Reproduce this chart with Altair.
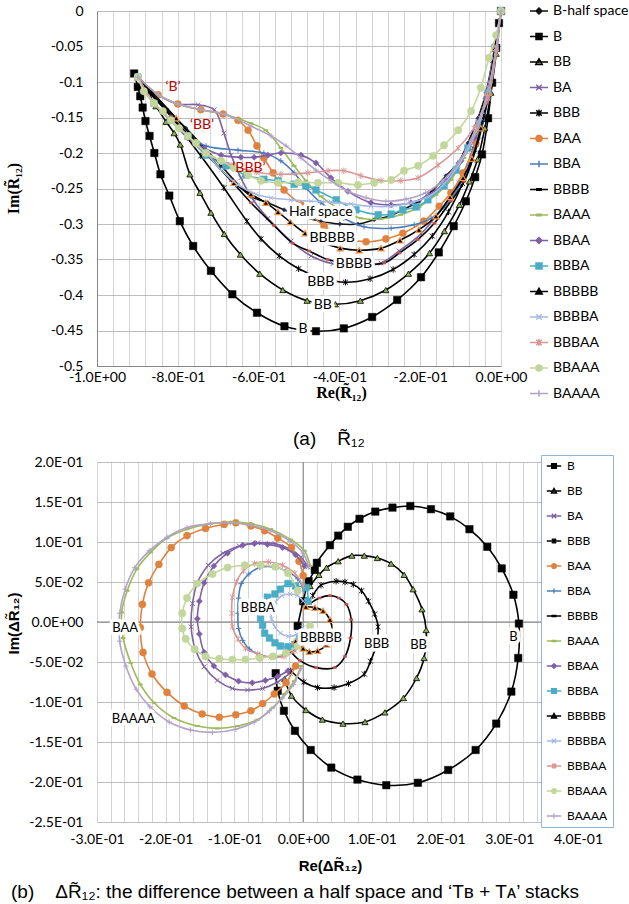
import json
import altair as alt
import pandas as pd

# ------------------------------------------------------------------
# Series names
TOP_SERIES = ["B-half space", "B", "BB", "BA", "BBB", "BAA", "BBA", "BBBB", "BAAA",
              "BBAA", "BBBA", "BBBBB", "BBBBA", "BBBAA", "BBAAA", "BAAAA"]
BOT_SERIES = TOP_SERIES[1:]

# ------------------------------------------------------------------
# (a) R12 : real / imaginary parts
HS_re = [-0.899,-0.842,-0.780,-0.693,-0.619,-0.577,-0.537,-0.495,-0.446,-0.399,-0.354,-0.314,-0.277,-0.240,-0.203,-0.168,-0.136,-0.106,-0.082,-0.057,-0.037,-0.020,0.0]
HS_im = [-0.093,-0.130,-0.165,-0.218,-0.261,-0.270,-0.280,-0.289,-0.296,-0.300,-0.300,-0.294,-0.289,-0.279,-0.268,-0.252,-0.232,-0.214,-0.186,-0.151,-0.115,-0.066,0.0]
B_re = [-0.908,-0.899,-0.893,-0.887,-0.880,-0.870,-0.858,-0.843,-0.821,-0.795,-0.762,-0.718,-0.665,-0.604,-0.536,-0.458,-0.389,-0.319,-0.257,-0.198,-0.154,-0.117,-0.087,-0.064,-0.047,-0.032,-0.022,-0.012,-0.005,0.0]
B_im = [-0.088,-0.107,-0.120,-0.136,-0.155,-0.176,-0.200,-0.230,-0.260,-0.296,-0.331,-0.366,-0.399,-0.425,-0.444,-0.451,-0.447,-0.431,-0.407,-0.375,-0.340,-0.303,-0.268,-0.234,-0.202,-0.151,-0.101,-0.052,-0.017,0.0]
BB_re = [-0.899,-0.879,-0.854,-0.829,-0.809,-0.794,-0.770,-0.745,-0.718,-0.685,-0.645,-0.597,-0.540,-0.480,-0.410,-0.348,-0.285,-0.229,-0.177,-0.140,-0.103,-0.078,-0.058,-0.040,-0.025,-0.012,0.0]
BB_im = [-0.093,-0.111,-0.134,-0.156,-0.172,-0.188,-0.230,-0.256,-0.284,-0.314,-0.343,-0.370,-0.393,-0.408,-0.413,-0.408,-0.393,-0.370,-0.341,-0.310,-0.273,-0.240,-0.209,-0.165,-0.115,-0.060,0.0]
BA_re = [-0.899,-0.849,-0.800,-0.750,-0.710,-0.686,-0.668,-0.644,-0.611,-0.577,-0.520,-0.470,-0.416,-0.356,-0.297,-0.252,-0.198,-0.149,-0.104,-0.069,-0.037,-0.015,0.0]
BA_im = [-0.093,-0.118,-0.131,-0.132,-0.139,-0.172,-0.203,-0.235,-0.268,-0.292,-0.324,-0.345,-0.356,-0.359,-0.355,-0.338,-0.314,-0.280,-0.242,-0.193,-0.123,-0.052,0.0]
BBB_re = [-0.899,-0.866,-0.829,-0.795,-0.743,-0.686,-0.629,-0.594,-0.549,-0.501,-0.445,-0.385,-0.324,-0.267,-0.215,-0.170,-0.130,-0.095,-0.065,-0.040,-0.020,0.0]
BBB_im = [-0.093,-0.118,-0.140,-0.165,-0.204,-0.249,-0.296,-0.321,-0.345,-0.363,-0.376,-0.382,-0.377,-0.364,-0.343,-0.317,-0.283,-0.243,-0.195,-0.135,-0.070,0.0]
BAA_re = [-0.899,-0.849,-0.800,-0.743,-0.688,-0.651,-0.626,-0.604,-0.587,-0.564,-0.537,-0.495,-0.438,-0.384,-0.334,-0.285,-0.243,-0.191,-0.153,-0.124,-0.094,-0.062,-0.035,-0.015,0.0]
BAA_im = [-0.093,-0.118,-0.131,-0.139,-0.145,-0.154,-0.168,-0.190,-0.207,-0.228,-0.252,-0.273,-0.303,-0.320,-0.325,-0.321,-0.313,-0.296,-0.275,-0.256,-0.228,-0.186,-0.123,-0.052,0.0]
BBA_re = [-0.899,-0.859,-0.817,-0.775,-0.730,-0.651,-0.587,-0.545,-0.512,-0.483,-0.446,-0.389,-0.339,-0.272,-0.215,-0.173,-0.141,-0.109,-0.079,-0.054,-0.032,-0.015,0.0]
BBA_im = [-0.093,-0.130,-0.154,-0.176,-0.190,-0.196,-0.200,-0.211,-0.228,-0.249,-0.270,-0.292,-0.304,-0.306,-0.301,-0.292,-0.277,-0.252,-0.218,-0.179,-0.123,-0.052,0.0]
BBBB_re = [-0.899,-0.817,-0.743,-0.668,-0.619,-0.562,-0.516,-0.475,-0.429,-0.364,-0.289,-0.252,-0.206,-0.165,-0.124,-0.091,-0.060,-0.035,-0.015,0.0]
BBBB_im = [-0.093,-0.148,-0.193,-0.239,-0.270,-0.302,-0.327,-0.338,-0.350,-0.356,-0.355,-0.341,-0.322,-0.299,-0.268,-0.240,-0.190,-0.130,-0.065,0.0]
BAAA_re = [-0.899,-0.849,-0.800,-0.743,-0.681,-0.619,-0.582,-0.545,-0.512,-0.483,-0.446,-0.396,-0.347,-0.297,-0.248,-0.203,-0.161,-0.124,-0.092,-0.062,-0.035,-0.015,0.0]
BAAA_im = [-0.093,-0.118,-0.131,-0.139,-0.146,-0.158,-0.168,-0.193,-0.218,-0.239,-0.261,-0.280,-0.292,-0.293,-0.287,-0.276,-0.259,-0.238,-0.207,-0.172,-0.115,-0.052,0.0]
BBAA_re = [-0.899,-0.859,-0.817,-0.775,-0.735,-0.693,-0.644,-0.611,-0.577,-0.545,-0.495,-0.458,-0.421,-0.379,-0.322,-0.272,-0.223,-0.178,-0.136,-0.099,-0.067,-0.037,-0.015,0.0]
BBAA_im = [-0.093,-0.130,-0.154,-0.179,-0.193,-0.203,-0.206,-0.206,-0.203,-0.200,-0.203,-0.214,-0.235,-0.254,-0.270,-0.273,-0.270,-0.259,-0.239,-0.211,-0.179,-0.123,-0.052,0.0]
BBBA_re = [-0.899,-0.859,-0.817,-0.775,-0.730,-0.681,-0.631,-0.587,-0.552,-0.512,-0.483,-0.458,-0.408,-0.359,-0.304,-0.272,-0.243,-0.210,-0.181,-0.141,-0.111,-0.082,-0.054,-0.032,-0.015,0.0]
BBBA_im = [-0.093,-0.130,-0.154,-0.176,-0.203,-0.218,-0.231,-0.237,-0.239,-0.244,-0.246,-0.252,-0.266,-0.280,-0.287,-0.286,-0.280,-0.276,-0.266,-0.246,-0.224,-0.193,-0.158,-0.115,-0.052,0.0]
BBBBB_re = [-0.899,-0.804,-0.730,-0.661,-0.619,-0.582,-0.552,-0.522,-0.485,-0.446,-0.398,-0.351,-0.297,-0.250,-0.203,-0.161,-0.126,-0.094,-0.072,-0.050,-0.032,-0.015,0.0]
BBBBB_im = [-0.093,-0.151,-0.200,-0.242,-0.258,-0.270,-0.283,-0.297,-0.313,-0.325,-0.334,-0.337,-0.334,-0.323,-0.308,-0.289,-0.262,-0.235,-0.208,-0.165,-0.115,-0.052,0.0]
BBBBA_re = [-0.899,-0.859,-0.817,-0.775,-0.730,-0.693,-0.651,-0.606,-0.569,-0.520,-0.470,-0.421,-0.371,-0.322,-0.272,-0.223,-0.178,-0.141,-0.106,-0.074,-0.050,-0.030,-0.012,0.0]
BBBBA_im = [-0.093,-0.130,-0.154,-0.176,-0.200,-0.224,-0.245,-0.258,-0.263,-0.266,-0.268,-0.269,-0.272,-0.275,-0.275,-0.270,-0.261,-0.244,-0.218,-0.186,-0.151,-0.108,-0.052,0.0]
BBBAA_re = [-0.899,-0.859,-0.817,-0.775,-0.730,-0.668,-0.606,-0.545,-0.478,-0.428,-0.389,-0.347,-0.297,-0.248,-0.205,-0.156,-0.106,-0.067,-0.032,-0.012,0.0]
BBBAA_im = [-0.093,-0.130,-0.154,-0.176,-0.200,-0.217,-0.227,-0.230,-0.228,-0.225,-0.225,-0.232,-0.239,-0.239,-0.235,-0.217,-0.193,-0.165,-0.123,-0.059,0.0]
BBAAA_re = [-0.899,-0.884,-0.859,-0.837,-0.817,-0.797,-0.775,-0.755,-0.730,-0.693,-0.661,-0.626,-0.594,-0.552,-0.502,-0.453,-0.403,-0.354,-0.314,-0.272,-0.240,-0.205,-0.168,-0.141,-0.106,-0.074,-0.050,-0.030,-0.012,0.0]
BBAAA_im = [-0.093,-0.113,-0.130,-0.141,-0.154,-0.165,-0.176,-0.186,-0.200,-0.211,-0.221,-0.231,-0.239,-0.242,-0.241,-0.242,-0.242,-0.245,-0.242,-0.238,-0.225,-0.218,-0.204,-0.189,-0.168,-0.141,-0.108,-0.066,-0.034,0.0]
BAAAA_re = [-0.899,-0.849,-0.800,-0.743,-0.681,-0.619,-0.569,-0.532,-0.495,-0.458,-0.421,-0.379,-0.334,-0.285,-0.235,-0.186,-0.144,-0.106,-0.074,-0.047,-0.027,-0.012,0.0]
BAAAA_im = [-0.093,-0.118,-0.131,-0.139,-0.146,-0.162,-0.176,-0.190,-0.207,-0.224,-0.239,-0.254,-0.263,-0.268,-0.265,-0.256,-0.239,-0.214,-0.182,-0.144,-0.101,-0.052,0.0]

# ------------------------------------------------------------------
# (b) delta R12 : real / imaginary parts
dB_re = [-0.008,0.000,0.008,0.017,0.020,0.039,0.051,0.065,0.082,0.105,0.130,0.156,0.186,0.214,0.242,0.268,0.289,0.306,0.314,0.313,0.303,0.281,0.251,0.211,0.167,0.121,0.079,0.041,0.011,-0.012,-0.028,-0.037,-0.040]
dB_im = [-0.005,0.026,0.051,0.065,0.074,0.096,0.108,0.119,0.129,0.138,0.143,0.145,0.141,0.132,0.116,0.094,0.067,0.034,-0.002,-0.045,-0.087,-0.127,-0.160,-0.185,-0.201,-0.204,-0.197,-0.182,-0.160,-0.136,-0.111,-0.086,-0.064]
dBB_re = [0.010,0.023,0.034,0.051,0.071,0.089,0.108,0.128,0.147,0.160,0.173,0.179,0.176,0.165,0.146,0.119,0.090,0.058,0.028,0.004,-0.017,-0.027]
dBB_im = [0.045,0.059,0.068,0.076,0.083,0.083,0.080,0.073,0.059,0.041,0.016,-0.010,-0.045,-0.070,-0.095,-0.113,-0.125,-0.127,-0.122,-0.110,-0.092,-0.071]
dBA_re = [-0.019,-0.037,-0.059,-0.081,-0.103,-0.125,-0.144,-0.157,-0.163,-0.161,-0.154,-0.138,-0.117,-0.093,-0.066,-0.041,-0.019,-0.003,0.007]
dBA_im = [-0.064,-0.075,-0.083,-0.085,-0.083,-0.073,-0.056,-0.034,-0.006,0.023,0.049,0.071,0.086,0.095,0.099,0.098,0.091,0.081,0.069]
dBBB_re = [0.014,0.026,0.048,0.061,0.073,0.085,0.095,0.104,0.109,0.106,0.098,0.089,0.066,0.045,0.021,0.001,-0.018]
dBBB_im = [0.033,0.046,0.051,0.050,0.047,0.039,0.026,0.010,-0.006,-0.030,-0.049,-0.065,-0.077,-0.082,-0.082,-0.075,-0.061]
dBAA_re = [-0.011,-0.025,-0.042,-0.059,-0.076,-0.098,-0.122,-0.147,-0.173,-0.198,-0.220,-0.233,-0.237,-0.234,-0.225,-0.210,-0.192,-0.169,-0.142,-0.115,-0.098,-0.076,-0.056,-0.037,-0.017,-0.006,0.000]
dBAA_im = [-0.055,-0.076,-0.090,-0.102,-0.111,-0.116,-0.119,-0.115,-0.105,-0.088,-0.065,-0.038,-0.007,0.022,0.049,0.072,0.093,0.108,0.117,0.122,0.124,0.120,0.114,0.105,0.093,0.076,0.058]
dBBA_re = [0.002,-0.008,-0.025,-0.044,-0.063,-0.079,-0.090,-0.094,-0.095,-0.094,-0.088,-0.078,-0.063,-0.044,-0.025,-0.011]
dBBA_im = [0.039,0.054,0.064,0.069,0.068,0.060,0.048,0.030,0.011,-0.008,-0.023,-0.034,-0.041,-0.044,-0.041,-0.034]
dBBBB_re = [0.010,0.024,0.039,0.052,0.063,0.070,0.069,0.061,0.046,0.019,-0.005,-0.019]
dBBBB_im = [0.023,0.030,0.033,0.030,0.022,0.003,-0.020,-0.043,-0.057,-0.057,-0.048,-0.036]
dBAAA_re = [-0.003,-0.013,-0.027,-0.044,-0.066,-0.095,-0.125,-0.154,-0.188,-0.217,-0.237,-0.251,-0.262,-0.264,-0.256,-0.242,-0.222,-0.198,-0.169,-0.135,-0.105,-0.076,-0.047,-0.018,0.002,0.010]
dBAAA_im = [-0.055,-0.074,-0.090,-0.107,-0.122,-0.130,-0.133,-0.130,-0.120,-0.101,-0.078,-0.051,-0.020,0.012,0.039,0.066,0.087,0.105,0.116,0.123,0.125,0.123,0.116,0.103,0.089,0.070]
dBBAA_re = [-0.022,-0.037,-0.055,-0.074,-0.094,-0.113,-0.130,-0.144,-0.151,-0.154,-0.151,-0.144,-0.130,-0.110,-0.088,-0.071,-0.052,-0.030,-0.011,0.002]
dBBAA_im = [-0.061,-0.068,-0.073,-0.076,-0.074,-0.066,-0.055,-0.038,-0.015,0.004,0.026,0.049,0.070,0.086,0.096,0.098,0.097,0.093,0.084,0.070]
dBBBA_re = [0.007,0.004,-0.011,-0.022,-0.033,-0.041,-0.052,-0.059,-0.060,-0.062,-0.059,-0.056,-0.049,-0.041,-0.033,-0.022,-0.012,-0.005]
dBBBA_im = [0.026,0.043,0.045,0.048,0.041,0.035,0.031,0.023,0.014,0.005,-0.004,-0.014,-0.020,-0.026,-0.030,-0.031,-0.028,-0.019]
dBBBBB_re = [0.004,0.017,0.029,0.039,0.042,0.034,0.021,0.009,0.000,-0.011]
dBBBBB_im = [0.019,0.018,0.014,0.003,-0.011,-0.028,-0.036,-0.037,-0.033,-0.024]
dBBBBA_re = [0.000,-0.008,-0.019,-0.031,-0.040,-0.046,-0.046,-0.041,-0.033,-0.021,-0.009,0.000]
dBBBBA_im = [0.026,0.033,0.035,0.033,0.025,0.015,0.004,-0.006,-0.014,-0.018,-0.015,-0.007]
dBBBAA_re = [0.000,-0.012,-0.030,-0.050,-0.071,-0.087,-0.097,-0.103,-0.104,-0.103,-0.095,-0.084,-0.066,-0.047,-0.028,-0.012,0.000]
dBBBAA_im = [0.045,0.061,0.071,0.075,0.073,0.064,0.050,0.031,0.011,-0.006,-0.021,-0.033,-0.040,-0.044,-0.043,-0.036,-0.026]
dBBAAA_re = [-0.008,-0.022,-0.040,-0.062,-0.085,-0.110,-0.132,-0.154,-0.169,-0.176,-0.176,-0.171,-0.158,-0.142,-0.122,-0.103,-0.084,-0.063,-0.044,-0.025,-0.008,0.004,0.010]
dBBAAA_im = [0.039,0.061,0.069,0.071,0.071,0.068,0.060,0.048,0.030,0.011,-0.008,-0.021,-0.034,-0.043,-0.046,-0.047,-0.047,-0.045,-0.043,-0.039,-0.030,-0.019,-0.005]
dBAAAA_re = [-0.003,-0.014,-0.030,-0.049,-0.071,-0.098,-0.132,-0.164,-0.195,-0.223,-0.243,-0.258,-0.267,-0.267,-0.259,-0.245,-0.224,-0.198,-0.169,-0.135,-0.106,-0.076,-0.047,-0.019,0.000,0.008]
dBAAAA_im = [-0.058,-0.078,-0.095,-0.111,-0.125,-0.134,-0.138,-0.135,-0.125,-0.106,-0.084,-0.055,-0.024,0.011,0.041,0.068,0.089,0.106,0.118,0.123,0.124,0.121,0.114,0.101,0.086,0.069]

TOP_DATA = {
    "B-half space": (HS_re, HS_im), "B": (B_re, B_im), "BB": (BB_re, BB_im), "BA": (BA_re, BA_im),
    "BBB": (BBB_re, BBB_im), "BAA": (BAA_re, BAA_im), "BBA": (BBA_re, BBA_im), "BBBB": (BBBB_re, BBBB_im),
    "BAAA": (BAAA_re, BAAA_im), "BBAA": (BBAA_re, BBAA_im), "BBBA": (BBBA_re, BBBA_im),
    "BBBBB": (BBBBB_re, BBBBB_im), "BBBBA": (BBBBA_re, BBBBA_im), "BBBAA": (BBBAA_re, BBBAA_im),
    "BBAAA": (BBAAA_re, BBAAA_im), "BAAAA": (BAAAA_re, BAAAA_im),
}
BOT_DATA = {
    "B": (dB_re, dB_im), "BB": (dBB_re, dBB_im), "BA": (dBA_re, dBA_im), "BBB": (dBBB_re, dBBB_im),
    "BAA": (dBAA_re, dBAA_im), "BBA": (dBBA_re, dBBA_im), "BBBB": (dBBBB_re, dBBBB_im),
    "BAAA": (dBAAA_re, dBAAA_im), "BBAA": (dBBAA_re, dBBAA_im), "BBBA": (dBBBA_re, dBBBA_im),
    "BBBBB": (dBBBBB_re, dBBBBB_im), "BBBBA": (dBBBBA_re, dBBBBA_im), "BBBAA": (dBBBAA_re, dBBBAA_im),
    "BBAAA": (dBBAAA_re, dBBAAA_im), "BAAAA": (dBAAAA_re, dBAAAA_im),
}

# Annotation labels
TOP_LAB_TEXT = ["Half space", "BBBBB", "BBBB", "BBB", "BB", "B"]
TOP_LAB_RE = [-0.446, -0.418, -0.364, -0.446, -0.441, -0.490]
TOP_LAB_IM = [-0.283, -0.320, -0.356, -0.382, -0.414, -0.448]
TOP_RED_TEXT = ["\u2018B\u2019", "\u2018BB\u2019", "\u2018BBB\u2019"]
TOP_RED_RE = [-0.812, -0.740, -0.624]
TOP_RED_IM = [-0.107, -0.161, -0.221]
BOT_LAB_TEXT = ["BAA", "BAAAA", "BBBA", "BBBBB", "BBB", "BB", "B"]
BOT_LAB_RE = [-0.259, -0.247, -0.066, 0.026, 0.107, 0.168, 0.306]
BOT_LAB_IM = [-0.008, -0.121, 0.018, -0.020, -0.027, -0.029, -0.019]

# Axis tick labels
TOP_X_LABELS = ["-1.0E+00", "-8.0E-01", "-6.0E-01", "-4.0E-01", "-2.0E-01", "0.0E+00"]
TOP_Y_LABELS = ["-0.5", "-0.45", "-0.4", "-0.35", "-0.3", "-0.25", "-0.2", "-0.15", "-0.1", "-0.05", "0"]
BOT_X_LABELS = ["-3.0E-01", "-2.0E-01", "-1.0E-01", "0.0E+00", "1.0E-01", "2.0E-01", "3.0E-01", "4.0E-01"]
BOT_Y_LABELS = ["-2.5E-01", "-2.0E-01", "-1.5E-01", "-1.0E-01", "-5.0E-02", "0.0E+00",
                "5.0E-02", "1.0E-01", "1.5E-01", "2.0E-01"]

# ------------------------------------------------------------------
# Styles
X_PATH = "M-1,-1L1,1M-1,1L1,-1"
STAR_PATH = "M-1,-1L1,1M-1,1L1,-1M0,-1.3L0,1.3"
PLUS_PATH = "M-1.1,0L1.1,0M0,-1.1L0,1.1"
DASH_PATH = "M-1,0L1,0"

# name: (line colour, shape, fill, stroke, size, stroke width)
STYLE = {
    "B-half space": ("#111111", "diamond", "#1F2D50", "#1F2D50", 18, 0.5),
    "B": ("#000000", "square", "#000000", "#000000", 55, 0.5),
    "BB": ("#000000", "triangle-up", "#8CB050", "#000000", 38, 0.8),
    "BA": ("#8064A2", X_PATH, "none", "#8064A2", 22, 1.0),
    "BBB": ("#000000", STAR_PATH, "none", "#000000", 24, 1.0),
    "BAA": ("#E0823D", "circle", "#E0823D", "#E0823D", 50, 0.5),
    "BBA": ("#4A7EBB", PLUS_PATH, "none", "#4A7EBB", 24, 1.0),
    "BBBB": ("#000000", DASH_PATH, "none", "#C0504D", 14, 2.5),
    "BAAA": ("#9BBB59", DASH_PATH, "none", "#9BBB59", 22, 2.0),
    "BBAA": ("#7F60A8", "diamond", "#7F60A8", "#7F60A8", 38, 0.5),
    "BBBA": ("#4BACC6", "square", "#4BACC6", "#4BACC6", 45, 0.5),
    "BBBBB": ("#000000", "triangle-up", "#000000", "#F79646", 38, 1.2),
    "BBBBA": ("#A7B9E3", X_PATH, "none", "#A7B9E3", 22, 1.0),
    "BBBAA": ("#DA9694", STAR_PATH, "none", "#DA9694", 24, 1.0),
    "BBAAA": ("#C3D69B", "circle", "#C3D69B", "#C3D69B", 55, 0.5),
    "BAAAA": ("#B3A2C7", PLUS_PATH, "none", "#B3A2C7", 24, 1.0),
}

LINE = "M-1.8,0H1.8"
LEG_MARK = {
    "diamond": "M0,-0.6L0.6,0L0,0.6L-0.6,0Z",
    "square": "M-0.6,-0.6H0.6V0.6H-0.6Z",
    "triangle-up": "M0,-0.65L0.65,0.5H-0.65Z",
    "circle": "M-0.6,0A0.6,0.6 0 1,0 0.6,0A0.6,0.6 0 1,0 -0.6,0Z",
    X_PATH: "M-0.55,-0.55L0.55,0.55M-0.55,0.55L0.55,-0.55",
    STAR_PATH: "M-0.55,-0.55L0.55,0.55M-0.55,0.55L0.55,-0.55M0,-0.7V0.7",
    PLUS_PATH: "M0,-0.65V0.65",
    DASH_PATH: "M-0.45,-0.15H0.45V0.15H-0.45Z",
}


def series_df(name, data):
    re_, im_ = data[name]
    return pd.DataFrame({"i": list(range(len(re_))), "re": re_, "im": im_})


def tick_expr(start, step, labels):
    k = f"(datum.value-({start}))/{step}"
    return f"abs({k}-round({k}))<0.01 ? {json.dumps(labels)}[round({k})] : ''"


def make_panel(series, data, field, xscale, yscale, xaxis, yaxis, legend, labels, red_labels, zero_rules):
    X = lambda f="re": alt.X(f"{f}:Q", scale=xscale, axis=xaxis)
    Y = lambda f="im": alt.Y(f"{f}:Q", scale=yscale, axis=yaxis)
    layers = []
    if zero_rules:
        z = pd.DataFrame({"re": [0.0], "im": [0.0]})
        layers.append(alt.Chart(z).mark_rule(color="#7F7F7F", strokeWidth=1).encode(x=X()))
        layers.append(alt.Chart(z).mark_rule(color="#7F7F7F", strokeWidth=1).encode(y=Y()))
    for s in series:
        lc, shp, fc, sc, sz, sw = STYLE[s]
        df = series_df(s, data)
        layers.append(
            alt.Chart(df).mark_line(color=lc, strokeWidth=1.6, interpolate="catmull-rom")
            .encode(x=X(), y=Y(), order=alt.Order("i:Q"))
        )
        layers.append(
            alt.Chart(df).mark_point(shape=shp, filled=True, fill=fc, stroke=sc, strokeWidth=sw,
                                     size=sz, opacity=1)
            .encode(x=X(), y=Y())
        )
    # annotation labels with white halo
    txt, lre, lim, fsz = labels
    ldf = pd.DataFrame({"t": txt, "re": lre, "im": lim})
    layers.append(alt.Chart(ldf).mark_text(font="Lato", fontSize=fsz, stroke="white", strokeWidth=7,
                                           strokeJoin="round", color="white")
                  .encode(x=X(), y=Y(), text="t:N"))
    layers.append(alt.Chart(ldf).mark_text(font="Lato", fontSize=fsz, color="black")
                  .encode(x=X(), y=Y(), text="t:N"))
    if red_labels is not None:
        rt, rre, rim = red_labels
        rdf = pd.DataFrame({"t": rt, "re": rre, "im": rim})
        layers.append(alt.Chart(rdf).mark_text(font="Lato", fontSize=14, color="#C00000")
                      .encode(x=X(), y=Y(), text="t:N"))
    # legend carrier (no marks drawn, legend from explicit scale domain)
    ndf = pd.DataFrame({field: series})
    dom = list(series)
    layers.append(
        alt.Chart(ndf).mark_point(filled=True)
        .transform_filter(alt.datum[field] == "__none__")
        .encode(
            shape=alt.Shape(f"{field}:N", scale=alt.Scale(domain=dom, range=[LINE + LEG_MARK[STYLE[s][1]] for s in dom]), legend=legend),
            fill=alt.Fill(f"{field}:N", scale=alt.Scale(domain=dom, range=[STYLE[s][2] if STYLE[s][2] != "none" else STYLE[s][3] for s in dom]), legend=legend),
            stroke=alt.Stroke(f"{field}:N", scale=alt.Scale(domain=dom, range=[STYLE[s][0] for s in dom]), legend=legend),
        )
    )
    return alt.layer(*layers)


# ---------------- top panel ----------------
top_xgrid = [round(-1 + 0.04 * k, 2) for k in range(26)]
top_ygrid = [round(-0.5 + 0.05 * k, 2) for k in range(11)]
top_xaxis = alt.Axis(values=top_xgrid, labelExpr=tick_expr(-1, 0.2, TOP_X_LABELS), labelOverlap=False,
                     labelFlush=False, grid=True, gridColor="#D4D4D4", ticks=False, labelPadding=4,
                     domainColor="#868686",
                     title="Re(R\u0303\u2081\u2082)", titleFont="Liberation Serif", titleFontSize=16,
                     titleFontWeight="bold", titleX=244, titleY=26, titleBaseline="middle")
top_yaxis = alt.Axis(values=top_ygrid, labelExpr=tick_expr(-0.5, 0.05, TOP_Y_LABELS), labelOverlap=False,
                     labelFlush=False, grid=True, gridColor="#BDBDBD", ticks=False, labelPadding=14,
                     domainColor="#868686",
                     title="Im(R\u0303\u2081\u2082)", titleFont="Liberation Serif", titleFontSize=16,
                     titleFontWeight="bold", titleX=-84, titleY=177, titleBaseline="middle")
top_legend = alt.Legend(title=None, orient="none", legendX=435, legendY=-7, padding=0,
                        symbolSize=100, symbolStrokeWidth=1.5, labelFont="Lato", labelFontSize=14,
                        labelOffset=7, rowPadding=11.5, labelLimit=200, symbolOpacity=1)
top = make_panel(
    TOP_SERIES, TOP_DATA, "series_a",
    alt.Scale(domain=[-1, 0], nice=False, zero=False), alt.Scale(domain=[-0.5, 0], nice=False, zero=False),
    top_xaxis, top_yaxis, top_legend,
    (TOP_LAB_TEXT, TOP_LAB_RE, TOP_LAB_IM, 14), (TOP_RED_TEXT, TOP_RED_RE, TOP_RED_IM), False,
).properties(
    width=404, height=355,
    title=alt.TitleParams("(a)\u00a0\u00a0\u00a0\u00a0R\u0303\u2081\u2082", orient="bottom", anchor="start",
                          frame="group", dx=196, offset=29, font="Liberation Sans", fontSize=19,
                          fontWeight="normal", color="black"),
)

# ---------------- bottom panel ----------------
bot_xgrid = [round(-0.3 + 0.02 * k, 2) for k in range(36)]
bot_ygrid = [round(-0.25 + 0.05 * k, 2) for k in range(10)]
bot_xaxis = alt.Axis(values=bot_xgrid, labelExpr=tick_expr(-0.3, 0.1, BOT_X_LABELS), labelOverlap=False,
                     labelFlush=False, grid=True, gridColor="#D4D4D4", ticks=False, labelPadding=10, domain=False,
                     title="Re(\u0394R\u0303\u2081\u2082)", titleFont="Liberation Sans", titleFontSize=15,
                     titleFontWeight="bold", titleX=233, titleY=43, titleBaseline="middle")
bot_yaxis = alt.Axis(values=bot_ygrid, labelExpr=tick_expr(-0.25, 0.05, BOT_Y_LABELS), labelOverlap=False,
                     labelFlush=False, grid=True, gridColor="#BDBDBD", ticks=False, labelPadding=14, domain=False,
                     title="Im(\u0394R\u0303\u2081\u2082)", titleFont="Liberation Sans", titleFontSize=15,
                     titleFontWeight="bold", titleX=-84, titleY=161, titleBaseline="middle")
bot_legend = alt.Legend(title=None, orient="none", legendX=444, legendY=-7, padding=5,
                        fillColor="white", strokeColor="#95B3D7",
                        symbolSize=64, symbolStrokeWidth=1.3, symbolOffset=2, labelFont="Lato",
                        labelFontSize=12, labelOffset=7, rowPadding=13.0, labelLimit=200, symbolOpacity=1)
bottom = make_panel(
    BOT_SERIES, BOT_DATA, "series_b",
    alt.Scale(domain=[-0.3, 0.4], nice=False, zero=False), alt.Scale(domain=[-0.25, 0.2], nice=False, zero=False),
    bot_xaxis, bot_yaxis, bot_legend,
    (BOT_LAB_TEXT, BOT_LAB_RE, BOT_LAB_IM, 13), None, True,
).properties(
    width=481, height=360,
    title=alt.TitleParams("(b)\u00a0\u00a0\u00a0\u00a0\u0394R\u0303\u2081\u2082: the difference between a half space and \u2018T\u0299 + T\u1d00\u2019 stacks",
                          orient="bottom", anchor="start", frame="bounds", dx=5, offset=10,
                          font="Liberation Sans", fontSize=19, fontWeight="normal", color="black"),
)

chart = alt.vconcat(top, bottom, spacing=5).resolve_scale(
    x="independent", y="independent", shape="independent", fill="independent", stroke="independent"
).properties(
    padding={"left": 5, "top": 4, "right": 0, "bottom": 0}
).configure_axis(
    labelFont="Lato", labelFontSize=14, labelColor="black", titleColor="black"
).configure_view(stroke=None)

chart.save("out.html", embed_options={"renderer": "svg", "actions": False})
